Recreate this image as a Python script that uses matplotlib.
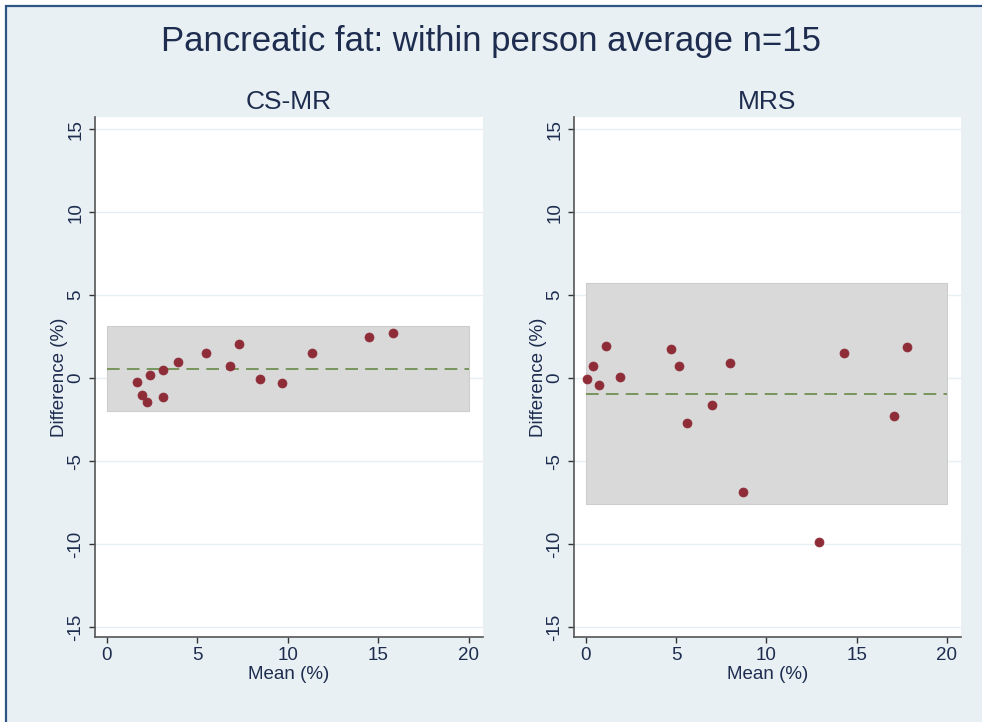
#!/usr/bin/env python3

import matplotlib.pyplot as plt
from matplotlib.patches import Rectangle

plt.rcParams['font.family'] = ['Liberation Sans', 'DejaVu Sans']

# Bland-Altman data: mean of the two readings vs their difference (%)
csmr_mean = [1.64, 1.95, 2.23, 2.39, 3.09, 3.09, 3.94, 5.45, 6.81, 7.31, 8.47, 9.70, 11.33, 14.49, 15.78]
csmr_diff = [-0.24, -1.02, -1.45, 0.18, 0.46, -1.16, 0.96, 1.50, 0.72, 2.05, -0.08, -0.28, 1.50, 2.47, 2.71]
csmr_bias = 0.55
csmr_loa = [-2.00, 3.12]

mrs_mean = [0.04, 0.37, 0.73, 1.09, 1.88, 4.71, 5.14, 5.60, 6.96, 7.97, 8.69, 12.89, 14.31, 17.07, 17.79]
mrs_diff = [-0.04, 0.70, -0.42, 1.91, 0.08, 1.77, 0.70, -2.69, -1.65, 0.88, -6.87, -9.90, 1.50, -2.27, 1.89]
mrs_bias = -0.96
mrs_loa = [-7.60, 5.70]

panels = ['CS-MR', 'MRS']
x_ticks = [0, 5, 10, 15, 20]
y_ticks = [-15, -10, -5, 0, 5, 10, 15]
band_x = [0, 20]

bg = '#e8f0f3'
txt = '#1e2d4f'
fig = plt.figure(figsize=(9.82, 7.22), dpi=100, facecolor='white')
fig.patches.append(Rectangle((6 / 982, -0.05), 1.1, 1.05 - 6 / 722,
                             transform=fig.transFigure, facecolor=bg,
                             edgecolor='#2d5586', linewidth=1.6, zorder=-10))

fig.text(0.5, 0.942, 'Pancreatic fat: within person average n=15', ha='center', va='center',
         fontsize=25, color=txt)

ax1 = fig.add_axes([0.0967, 0.1177, 0.395, 0.720])
ax2 = fig.add_axes([0.5845, 0.1177, 0.394, 0.720])

data = [(ax1, csmr_mean, csmr_diff, csmr_bias, csmr_loa),
        (ax2, mrs_mean, mrs_diff, mrs_bias, mrs_loa)]

for (ax, xm, yd, bias, loa), name in zip(data, panels):
    ax.set_facecolor('white')
    ax.fill_between(band_x, loa[0], loa[1], facecolor='#d9d9d9', edgecolor='#cdcdcd',
                    linewidth=0.8, zorder=1)
    ax.plot(band_x, [bias, bias], color='#6e8f50', linewidth=1.3, dashes=(7, 4), zorder=2)
    ax.scatter(xm, yd, s=42, color='#8e2c37', edgecolors='#8e2c37', linewidths=0.5, zorder=3)

    ax.set_xlim(-0.66, 20.77)
    ax.set_ylim(-15.6, 15.72)
    ax.set_xticks(x_ticks)
    ax.set_yticks(y_ticks)
    ax.set_yticklabels([str(t) for t in y_ticks], rotation=90, va='center')
    ax.grid(axis='y', color='#e6eff1', linewidth=1.0, zorder=0)
    ax.set_axisbelow(True)
    for s in ['top', 'right']:
        ax.spines[s].set_visible(False)
    for s in ['left', 'bottom']:
        ax.spines[s].set_color('#555555')
        ax.spines[s].set_linewidth(1.2)
    ax.tick_params(colors='#333333', labelcolor=txt, labelsize=13.5, length=4.5, width=1, pad=3)
    ax.set_xlabel('Mean (%)', fontsize=13.5, color=txt, labelpad=1)
    ax.set_ylabel('Difference (%)', fontsize=13.5, color=txt, labelpad=0)
    ax.set_title(name, fontsize=19, color=txt, pad=6)

fig.savefig('out.png', dpi=100, facecolor=fig.get_facecolor())
